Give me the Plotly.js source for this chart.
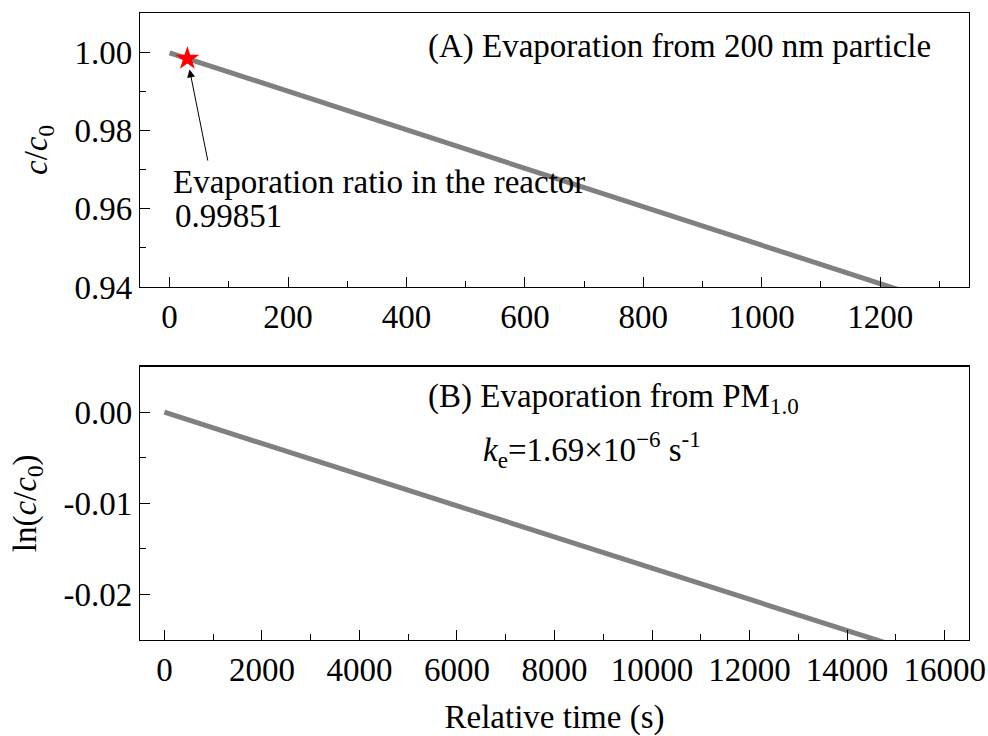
<!DOCTYPE html>
<html><head><meta charset="utf-8">
<script src="https://cdn.plot.ly/plotly-3.0.1.min.js"></script>
<style>html,body{margin:0;padding:0;background:#fff}#chart{width:988px;height:736px}</style>
</head><body><div id="chart"></div>
<script>
// Panel A: c/c0 vs time (200 nm particle)
const timeA = [0, 1240];
const ratioA = [1.0, 0.93887];
const starTime = [30];
const starRatio = [0.99851];
// Panel B: ln(c/c0) vs time (PM1.0)
const timeB = [0, 5000, 10000, 15000];
const lnRatioB = [0, -0.00856, -0.01711, -0.02567];
// Tick labels
const xTickValsA = [0, 200, 400, 600, 800, 1000, 1200];
const xTickTextA = ['0', '200', '400', '600', '800', '1000', '1200'];
const yTickValsA = [0.94, 0.96, 0.98, 1.00];
const yTickTextA = ['0.94', '0.96', '0.98', '1.00'];
const xTickValsB = [0, 2000, 4000, 6000, 8000, 10000, 12000, 14000, 16000];
const xTickTextB = ['0', '2000', '4000', '6000', '8000', '10000', '12000', '14000', '16000'];
const yTickValsB = [-0.02, -0.01, 0.00];
const yTickTextB = ['-0.02', '-0.01', '0.00'];

const FONT = 'Liberation Serif, Times New Roman, serif';
const FS = 33;

function minorTicks(dtick, tick0) {
  return {ticks: 'inside', ticklen: 6, tickwidth: 1, tickcolor: '#000', dtick: dtick, tick0: tick0, showgrid: false};
}
function axisBase(extra) {
  return Object.assign({
    showline: true, mirror: true, linecolor: '#000', linewidth: 1.2,
    ticks: 'inside', ticklen: 10, tickwidth: 1, tickcolor: '#000',
    showgrid: false, zeroline: false, tickmode: 'array',
    tickfont: {family: FONT, size: FS, color: '#000'}
  }, extra);
}

const traces = [
  {x: timeA, y: ratioA, type: 'scatter', mode: 'lines', xaxis: 'x', yaxis: 'y',
   line: {color: '#808080', width: 5}, hoverinfo: 'skip'},
  {x: starTime, y: starRatio, type: 'scatter', mode: 'markers', xaxis: 'x', yaxis: 'y',
   marker: {symbol: 'star', size: 18, color: '#ff0000', line: {width: 0}}, hoverinfo: 'skip'},
  {x: timeB, y: lnRatioB, type: 'scatter', mode: 'lines', xaxis: 'x2', yaxis: 'y2',
   line: {color: '#808080', width: 5}, hoverinfo: 'skip'}
];

const layout = {
  width: 988, height: 736,
  margin: {l: 0, r: 0, t: 0, b: 0},
  paper_bgcolor: '#fff', plot_bgcolor: '#fff',
  showlegend: false,
  font: {family: FONT, size: FS, color: '#000'},
  xaxis: axisBase({domain: [0.1417, 0.9808], anchor: 'y', range: [-50, 1350],
    tickvals: xTickValsA, ticktext: xTickTextA, minor: minorTicks(100, 0)}),
  yaxis: axisBase({domain: [0.6101, 0.9823], anchor: 'x', range: [0.94, 1.0102],
    tickvals: yTickValsA, ticktext: yTickTextA, minor: minorTicks(0.01, 0.94),
    title: {text: '<i>c</i>/<i>c</i><sub>0</sub>', font: {family: FONT, size: FS}, standoff: 16}}),
  xaxis2: axisBase({domain: [0.1417, 0.9808], anchor: 'y2', range: [-500, 16500],
    tickvals: xTickValsB, ticktext: xTickTextB, minor: minorTicks(1000, 0),
    title: {text: 'Relative time (s)', font: {family: FONT, size: FS}, standoff: 26}}),
  yaxis2: axisBase({domain: [0.1304, 0.5018], anchor: 'x2', range: [-0.025, 0.005],
    tickvals: yTickValsB, ticktext: yTickTextB, minor: minorTicks(0.005, 0),
    title: {text: 'ln(<i>c</i>/<i>c</i><sub>0</sub>)', font: {family: FONT, size: FS}, standoff: 16}}),
  annotations: [
    {xref: 'x', yref: 'y', x: 30, y: 0.99851, axref: 'x', ayref: 'y', ax: 65, ay: 0.9720,
     showarrow: true, arrowhead: 2, arrowsize: 1.6, arrowwidth: 1, arrowcolor: '#000', standoff: 11, text: ''},
    {xref: 'paper', yref: 'paper', x: 426 / 988, y: 1 - 46 / 736, xanchor: 'left', yanchor: 'middle',
     text: '(A) Evaporation from 200 nm particle', showarrow: false, font: {family: FONT, size: FS}},
    {xref: 'paper', yref: 'paper', x: 171 / 988, y: 1 - 182 / 736, xanchor: 'left', yanchor: 'middle',
     text: 'Evaporation ratio in the reactor', showarrow: false, font: {family: FONT, size: FS}},
    {xref: 'paper', yref: 'paper', x: 173 / 988, y: 1 - 216 / 736, xanchor: 'left', yanchor: 'middle',
     text: '0.99851', showarrow: false, font: {family: FONT, size: FS}},
    {xref: 'paper', yref: 'paper', x: 426 / 988, y: 1 - 398 / 736, xanchor: 'left', yanchor: 'middle',
     text: '(B) Evaporation from PM<sub>1.0</sub>', showarrow: false, font: {family: FONT, size: FS}},
    {xref: 'paper', yref: 'paper', x: 481 / 988, y: 1 - 449 / 736, xanchor: 'left', yanchor: 'middle',
     text: '<i>k</i><sub>e</sub>=1.69×10<sup>−6</sup> s<sup>-1</sup>', showarrow: false, font: {family: FONT, size: FS}}
  ]
};

Plotly.newPlot('chart', traces, layout, {staticPlot: true, displayModeBar: false});
</script>
</body></html>
